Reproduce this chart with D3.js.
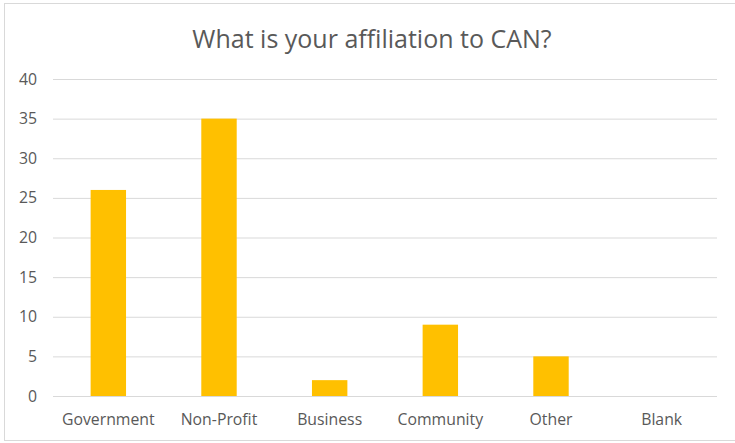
<!DOCTYPE html>
<html lang="en">
<head>
<meta charset="UTF-8">
<title>What is your affiliation to CAN?</title>
<style>
    body { margin: 0; background: #fff; }
    svg { display: block; }
    text { font-family: "Open Sans", sans-serif; }
    .grid line { stroke: #d9d9d9; stroke-width: 1; }
    .grid path, .axis path { display: none; }
    .axis line { display: none; }
    .axis text { fill: #595959; font-size: 15.8px; font-family: "Open Sans", sans-serif; }
    .bar { fill: #ffc000; }
</style>
</head>
<body>
<svg width="735" height="443"></svg>
<script src="https://cdn.jsdelivr.net/npm/d3@7"></script>
<script>
var categories = ["Government", "Non-Profit", "Business", "Community", "Other", "Blank"];
var counts = [26, 35, 2, 9, 5, 0];
var yTicks = [0, 5, 10, 15, 20, 25, 30, 35, 40];
var title = "What is your affiliation to CAN?";

var svg = d3.select("svg"),
    margin = {top: 79, right: 18, bottom: 47, left: 53},
    width = +svg.attr("width") - margin.left - margin.right,
    height = +svg.attr("height") - margin.top - margin.bottom;

// chart border (right edge is cut off in the original)
svg.append("rect")
    .attr("x", 4.5).attr("y", 3.5)
    .attr("width", 740).attr("height", 437)
    .attr("fill", "none")
    .attr("stroke", "#d9d9d9");

var g = svg.append("g").attr("transform", "translate(" + margin.left + "," + margin.top + ")");

var x = d3.scaleBand()
    .domain(categories)
    .range([0, width])
    .paddingInner(0.68)
    .paddingOuter(0.34);

var y = d3.scaleLinear()
    .domain([0, 40])
    .range([height, 0]);

g.append("g")
    .attr("class", "grid")
    .call(d3.axisLeft(y).tickValues(yTicks).tickSize(-width).tickFormat(""));

g.selectAll(".bar")
    .data(counts)
    .enter().append("rect")
    .attr("class", "bar")
    .attr("x", function(d, i) { return x(categories[i]); })
    .attr("y", function(d) { return y(d); })
    .attr("width", x.bandwidth())
    .attr("height", function(d) { return height - y(d); });

g.append("g")
    .attr("class", "axis")
    .call(d3.axisLeft(y).tickValues(yTicks).tickSize(0).tickPadding(16));

g.append("g")
    .attr("class", "axis")
    .attr("transform", "translate(0," + height + ")")
    .call(d3.axisBottom(x).tickSize(0).tickPadding(18));

svg.append("text")
    .attr("x", 372)
    .attr("y", 48)
    .attr("text-anchor", "middle")
    .attr("fill", "#595959")
    .style("font-size", "25px")
    .text(title);
</script>
</body>
</html>
